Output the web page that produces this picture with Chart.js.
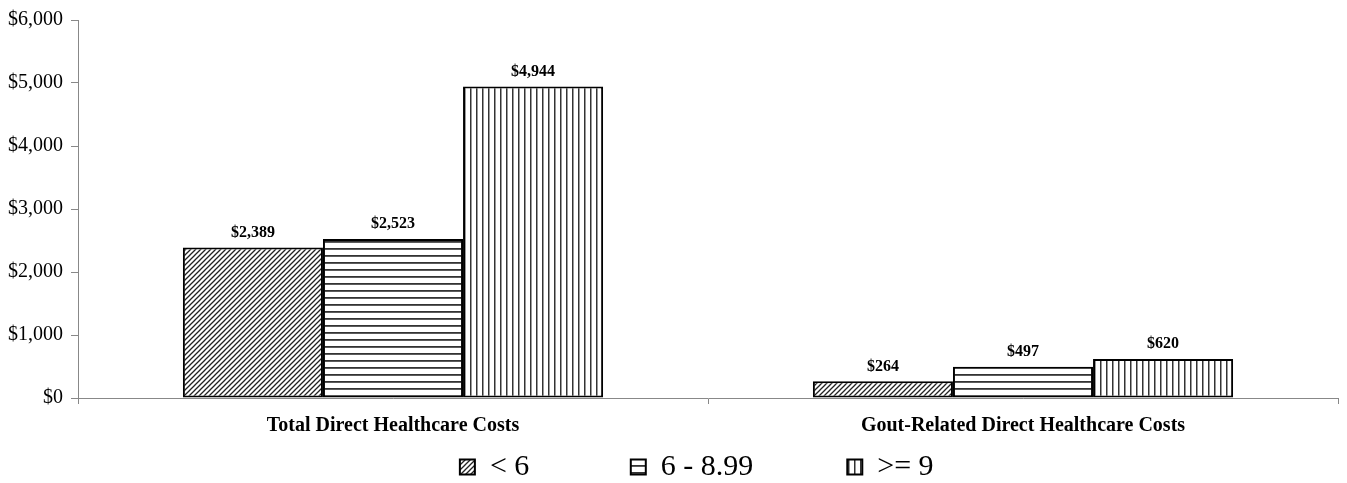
<!DOCTYPE html>
<html lang="en">
<head>
  <meta charset="UTF-8">
  <title>Direct Healthcare Costs</title>
  <script src="https://cdn.jsdelivr.net/npm/chart.js"></script>
  <style>
    html, body { margin: 0; padding: 0; background: #fff; }
    #wrap { width: 1347px; height: 483px; }
  </style>
</head>
<body>
  <div id="wrap"><canvas id="costChart"></canvas></div>

  <script>
    const categories = ['Total Direct Healthcare Costs', 'Gout-Related Direct Healthcare Costs'];
    const seriesNames = ['< 6', '6 - 8.99', '>= 9'];
    const under6 = [2389, 264];
    const from6to899 = [2523, 497];
    const over9 = [4944, 620];
    const yTicks = [0, 1000, 2000, 3000, 4000, 5000, 6000];

    const serif = '"Liberation Serif", "Times New Roman", serif';

    // small canvases used as fill patterns
    function makePattern(kind) {
      const c = document.createElement('canvas');
      const ctx = c.getContext('2d');
      if (kind === 'diag') {
        c.width = 5; c.height = 5;
        ctx.fillStyle = '#fff';
        ctx.fillRect(0, 0, 5, 5);
        ctx.strokeStyle = '#222';
        ctx.lineWidth = 1.3;
        ctx.beginPath();
        ctx.moveTo(-1, 6); ctx.lineTo(6, -1);
        ctx.moveTo(-1, 1); ctx.lineTo(1, -1);
        ctx.moveTo(4, 6); ctx.lineTo(6, 4);
        ctx.stroke();
      } else if (kind === 'horiz') {
        c.width = 7; c.height = 7;
        ctx.fillStyle = '#fff';
        ctx.fillRect(0, 0, 7, 7);
        ctx.fillStyle = '#333';
        ctx.fillRect(0, 3, 7, 1.8);
      } else {
        c.width = 6; c.height = 6;
        ctx.fillStyle = '#fff';
        ctx.fillRect(0, 0, 6, 6);
        ctx.fillStyle = '#333';
        ctx.fillRect(2, 0, 1.5, 6);
      }
      return document.getElementById('costChart').getContext('2d').createPattern(c, 'repeat');
    }

    const money = v => '$' + v.toLocaleString('en-US');

    const valueLabels = {
      id: 'valueLabels',
      afterDatasetsDraw(chart) {
        const ctx = chart.ctx;
        ctx.save();
        ctx.font = 'bold 16px ' + serif;
        ctx.fillStyle = '#000';
        ctx.textAlign = 'center';
        ctx.textBaseline = 'middle';
        chart.data.datasets.forEach((ds, i) => {
          chart.getDatasetMeta(i).data.forEach((bar, j) => {
            ctx.fillText(money(ds.data[j]), bar.x, bar.y - 15);
          });
        });
        ctx.restore();
      }
    };

    const patterns = [makePattern('diag'), makePattern('horiz'), makePattern('vert')];
    const seriesData = [under6, from6to899, over9];
    const legendGaps = [13, 12, 3]; // trailing spaces to spread the legend items

    const data = {
      labels: categories,
      datasets: seriesNames.map((name, i) => ({
        label: name,
        data: seriesData[i],
        backgroundColor: patterns[i],
        borderColor: '#000',
        borderWidth: 2,
        borderSkipped: false,
        categoryPercentage: 0.667,
        barPercentage: 1.0
      }))
    };

    const config = {
      type: 'bar',
      data: data,
      options: {
        responsive: true,
        maintainAspectRatio: false,
        animation: false,
        layout: { padding: { top: 20, right: 9, left: 0, bottom: -9 } },
        plugins: {
          tooltip: { enabled: false },
          legend: {
            position: 'bottom',
            fullSize: false,
            labels: {
              color: '#000',
              font: { family: serif, size: 30 },
              boxWidth: 15,
              boxHeight: 15,
              padding: 4,
              generateLabels(chart) {
                const items = Chart.defaults.plugins.legend.labels.generateLabels(chart);
                items.forEach((item, i) => { item.text = item.text + ' '.repeat(legendGaps[i]); });
                return items;
              }
            }
          }
        },
        scales: {
          x: {
            border: { color: '#888', width: 1 },
            grid: { display: true, drawOnChartArea: false, color: '#888', tickLength: 6, offset: true },
            ticks: {
              color: '#000',
              padding: 10,
              font: { family: serif, size: 20, weight: 'bold' }
            }
          },
          y: {
            min: 0,
            max: 6000,
            border: { color: '#888', width: 1 },
            grid: { display: true, drawOnChartArea: false, color: '#888', tickLength: 7 },
            afterBuildTicks(axis) {
              axis.ticks = yTicks.map(v => ({ value: v }));
            },
            ticks: {
              color: '#000',
              padding: 8,
              font: { family: serif, size: 20 },
              callback: v => money(v)
            }
          }
        }
      },
      plugins: [valueLabels]
    };

    const ctx = document.getElementById('costChart').getContext('2d');
    new Chart(ctx, config);
  </script>
</body>
</html>
